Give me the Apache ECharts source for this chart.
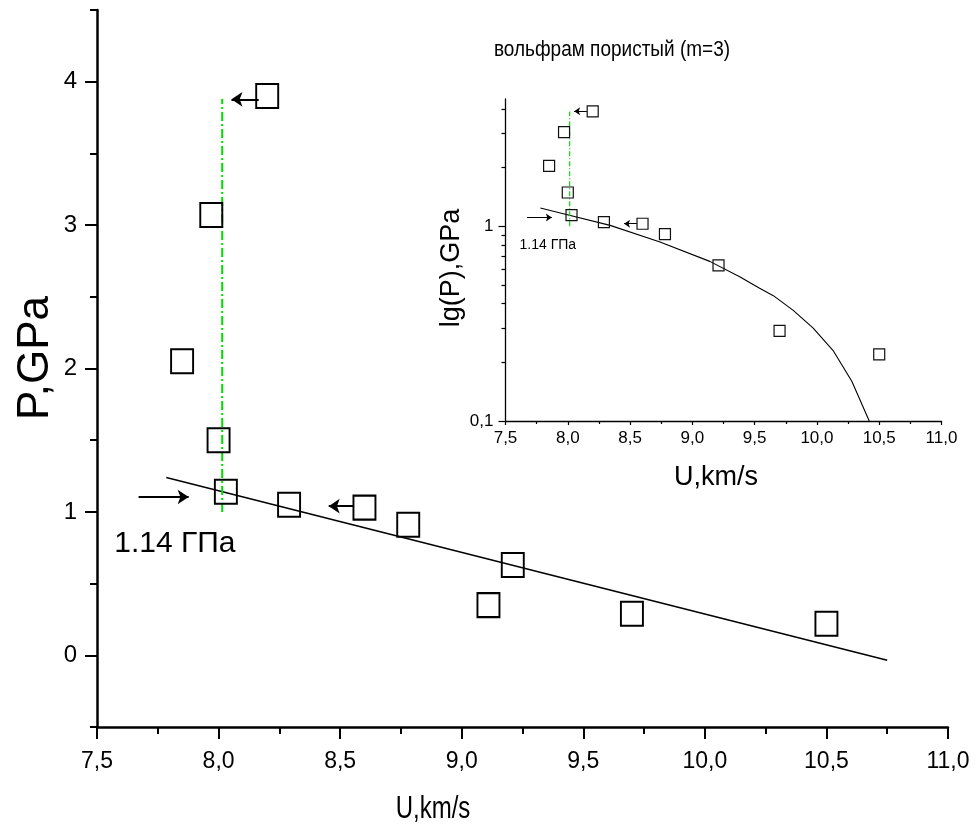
<!DOCTYPE html>
<html>
<head>
<meta charset="utf-8">
<script src="https://cdn.jsdelivr.net/npm/echarts@6/dist/echarts.min.js"></script>
<style>
  html, body { margin: 0; padding: 0; background: #fff; }
  #chart { width: 977px; height: 836px; }
</style>
</head>
<body>
<div id="chart"></div>
<script>
// Shock velocity U (km/s) and pressure P (GPa) for porous tungsten, m = 3
const mainU = [8.20, 7.97, 7.85, 8.00, 8.03, 8.29, 8.60, 8.78, 9.11, 9.21, 9.70, 10.50];
const mainP = [3.90, 3.07, 2.05, 1.50, 1.14, 1.05, 1.03, 0.91, 0.35, 0.63, 0.29, 0.22];

// Same measurements on the logarithmic inset
const insetU = [8.20, 7.97, 7.85, 8.00, 8.03, 8.29, 8.60, 8.78, 9.21, 9.70, 10.50];
const insetP = [3.89, 3.04, 2.04, 1.49, 1.14, 1.05, 1.03, 0.91, 0.63, 0.29, 0.22];

// Linear fit (main) and the same fit traced on the log scale (inset)
const fitU = [7.785, 10.75];
const fitP = [1.24, -0.035];
const curveU = [7.78, 7.94, 8.34, 8.74, 9.14, 9.38, 9.54, 9.65, 9.81, 9.97, 10.13, 10.28, 10.42];
const curveP = [1.24, 1.17, 1.01, 0.83, 0.66, 0.55, 0.48, 0.44, 0.37, 0.30, 0.23, 0.16, 0.10];

// Vertical marker at U = 8.015 km/s
const markerU = [8.015, 8.015];
const markerP = [1.0, 3.88];

// Arrows: [fromU, fromP, toU, toP]
const mainArrows = [
  [8.165, 3.877, 8.053, 3.877],
  [8.556, 1.040, 8.453, 1.040],
  [7.671, 1.104, 7.877, 1.104]
];
const insetArrows = [
  [8.153, 3.89, 8.051, 3.89],
  [8.555, 1.03, 8.452, 1.03],
  [7.672, 1.108, 7.872, 1.108]
];

// Threshold annotation
const noteText = '1.14 ГПа';
const mainNote = [7.82, 0.78];
const insetNote = [7.84, 0.80];

// Tick values
const mainYLabels = [0, 1, 2, 3, 4];
const mainYMinor = [-0.5, 0.5, 1.5, 2.5, 3.5, 4.5];
const insetYMajor = [0.1, 1];
const insetYMinor = [0.2, 0.3, 0.4, 0.5, 0.6, 0.7, 0.8, 0.9, 2, 3, 4];

const FONT = "'Liberation Sans', Arial, sans-serif";
const zip = (a, b) => a.map((v, i) => [v, b[i]]);
const comma = v => v.toFixed(1).replace('.', ',');

const chart = echarts.init(document.getElementById('chart'), null, { renderer: 'canvas' });

const axisBlack = (w) => ({ show: true, onZero: false, lineStyle: { color: '#000', width: w } });

chart.setOption({
  backgroundColor: '#fff',
  animation: false,
  textStyle: { fontFamily: FONT, color: '#000' },
  grid: [
    { left: 97, top: 10, width: 851, height: 717, containLabel: false, outerBoundsMode: 'none' },
    { left: 505.5, top: 99, width: 436, height: 322, containLabel: false, outerBoundsMode: 'none' }
  ],
  xAxis: [
    {
      gridIndex: 0, type: 'value', min: 7.5, max: 11, interval: 0.5, position: 'bottom',
      axisLine: axisBlack(2.5),
      axisTick: { show: true, inside: false, length: 12, lineStyle: { color: '#000', width: 2 } },
      minorTick: { show: true, splitNumber: 2, length: 7, lineStyle: { color: '#000', width: 2 } },
      axisLabel: { fontSize: 23, color: '#000', margin: 23, formatter: comma, fontFamily: FONT },
      splitLine: { show: false }
    },
    {
      gridIndex: 1, type: 'value', min: 7.5, max: 11, interval: 0.5, position: 'bottom',
      axisLine: axisBlack(1.3),
      axisTick: { show: true, inside: false, length: 4, lineStyle: { color: '#000', width: 1.2 } },
      minorTick: { show: true, splitNumber: 2, length: 3, lineStyle: { color: '#000', width: 1.2 } },
      axisLabel: { fontSize: 17, color: '#000', margin: 9, formatter: comma, fontFamily: FONT },
      splitLine: { show: false }
    }
  ],
  yAxis: [
    {
      gridIndex: 0, type: 'value', min: -0.5, max: 4.5, position: 'left',
      axisLine: axisBlack(2.5),
      axisTick: { show: true, length: 12, customValues: mainYLabels, lineStyle: { color: '#000', width: 2 } },
      axisLabel: { fontSize: 24, color: '#000', margin: 20, customValues: mainYLabels, fontFamily: FONT },
      splitLine: { show: false }
    },
    {
      gridIndex: 0, type: 'value', min: -0.5, max: 4.5, position: 'left',
      axisLine: { show: false, onZero: false },
      axisTick: { show: true, length: 7, customValues: mainYMinor, lineStyle: { color: '#000', width: 2 } },
      axisLabel: { show: false },
      splitLine: { show: false }
    },
    {
      gridIndex: 1, type: 'log', logBase: 10, min: 0.1, max: 4.5, position: 'left',
      axisLine: axisBlack(1.3),
      axisTick: { show: true, length: 7, customValues: insetYMajor, lineStyle: { color: '#000', width: 1.2 } },
      axisLabel: {
        fontSize: 17, color: '#000', margin: 12, customValues: insetYMajor, fontFamily: FONT,
        formatter: v => (v < 0.5 ? '0,1' : '1')
      },
      splitLine: { show: false }
    },
    {
      gridIndex: 1, type: 'log', logBase: 10, min: 0.1, max: 4.5, position: 'left',
      axisLine: { show: false, onZero: false },
      axisTick: { show: true, length: 4, customValues: insetYMinor, lineStyle: { color: '#000', width: 1.2 } },
      axisLabel: { show: false },
      splitLine: { show: false }
    }
  ],
  graphic: [
    {
      type: 'text', x: 612, y: 50, scaleY: 1.18,
      style: { text: 'вольфрам пористый (m=3)', font: '19px ' + FONT, fill: '#000', align: 'center', verticalAlign: 'middle' }
    },
    {
      type: 'text', x: 36, y: 358, rotation: Math.PI / 2,
      style: { text: 'P,GPa', font: '44px ' + FONT, fill: '#000', align: 'center', verticalAlign: 'middle' }
    },
    {
      type: 'text', x: 433, y: 809, scaleY: 1.3,
      style: { text: 'U,km/s', font: '24px ' + FONT, fill: '#000', align: 'center', verticalAlign: 'middle' }
    },
    {
      type: 'text', x: 452, y: 268, rotation: Math.PI / 2,
      style: { text: 'lg(P),GPa', font: '27px ' + FONT, fill: '#000', align: 'center', verticalAlign: 'middle' }
    },
    {
      type: 'text', x: 716, y: 478,
      style: { text: 'U,km/s', font: '27px ' + FONT, fill: '#000', align: 'center', verticalAlign: 'middle' }
    }
  ],
  series: [
    // ---- main plot ----
    {
      type: 'line', xAxisIndex: 0, yAxisIndex: 0, data: zip(fitU, fitP),
      symbol: 'none', lineStyle: { color: '#000', width: 1.5 }, z: 2
    },
    {
      type: 'line', xAxisIndex: 0, yAxisIndex: 0, data: zip(markerU, markerP),
      symbol: 'none', lineStyle: { color: '#00dd00', width: 2, type: [9, 3, 2, 3] }, z: 2
    },
    {
      type: 'scatter', xAxisIndex: 0, yAxisIndex: 0, data: zip(mainU, mainP),
      symbol: 'rect', symbolSize: [22, 24],
      itemStyle: { color: 'transparent', borderColor: '#000', borderWidth: 2, opacity: 1 }, z: 3
    },
    {
      type: 'lines', coordinateSystem: 'cartesian2d', xAxisIndex: 0, yAxisIndex: 0,
      data: mainArrows.map(a => ({ coords: [[a[0], a[1]], [a[2], a[3]]] })),
      symbol: ['none', 'arrow'], symbolSize: [0, 11],
      lineStyle: { color: '#000', width: 2, opacity: 1 }, z: 3
    },
    {
      type: 'scatter', xAxisIndex: 0, yAxisIndex: 0, data: [mainNote],
      symbolSize: 0, silent: true, itemStyle: { opacity: 1 },
      label: { show: true, position: 'inside', formatter: noteText, fontSize: 30, color: '#000', fontFamily: FONT }
    },
    // ---- inset ----
    {
      type: 'line', xAxisIndex: 1, yAxisIndex: 2, data: zip(curveU, curveP),
      symbol: 'none', lineStyle: { color: '#000', width: 1.1 }, z: 2
    },
    {
      type: 'line', xAxisIndex: 1, yAxisIndex: 2, data: zip(markerU, markerP),
      symbol: 'none', lineStyle: { color: '#00e000', width: 1.2, type: [5, 2, 1, 2] }, z: 2
    },
    {
      type: 'scatter', xAxisIndex: 1, yAxisIndex: 2, data: zip(insetU, insetP),
      symbol: 'rect', symbolSize: 11,
      itemStyle: { color: 'transparent', borderColor: '#111', borderWidth: 1.2, opacity: 1 }, z: 3
    },
    {
      type: 'lines', coordinateSystem: 'cartesian2d', xAxisIndex: 1, yAxisIndex: 2,
      data: insetArrows.map(a => ({ coords: [[a[0], a[1]], [a[2], a[3]]] })),
      symbol: ['none', 'arrow'], symbolSize: [0, 6],
      lineStyle: { color: '#000', width: 1.2, opacity: 1 }, z: 3
    },
    {
      type: 'scatter', xAxisIndex: 1, yAxisIndex: 2, data: [insetNote],
      symbolSize: 0, silent: true, itemStyle: { opacity: 1 },
      label: { show: true, position: 'inside', formatter: noteText, fontSize: 14, color: '#000', fontFamily: FONT }
    }
  ]
});
</script>
</body>
</html>
